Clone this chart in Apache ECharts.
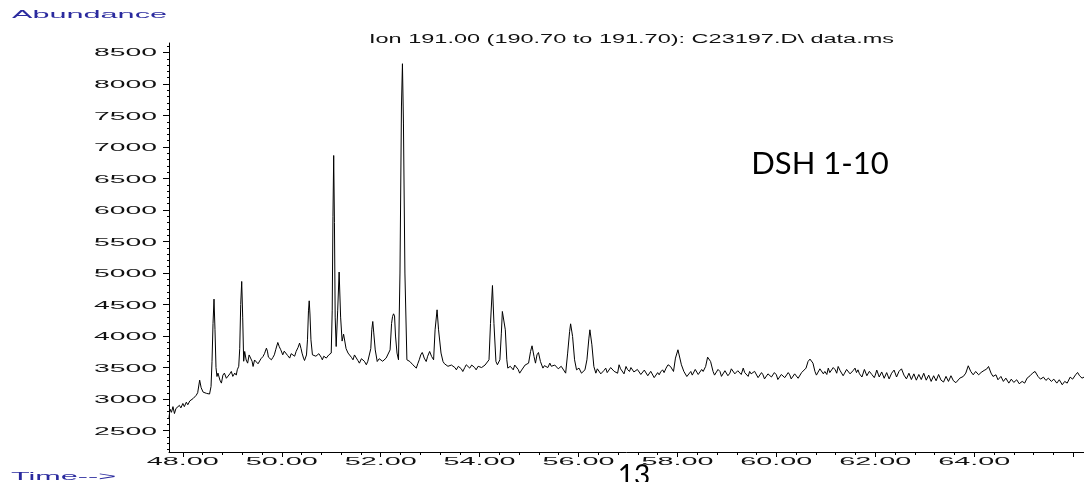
<!DOCTYPE html>
<html>
<head>
<meta charset="utf-8">
<script src="https://cdn.jsdelivr.net/npm/echarts@6/dist/echarts.min.js"></script>
<style>
    html, body { margin: 0; padding: 0; background: #ffffff; }
    #grafiek { width: 1084px; height: 482px; }
</style>
</head>
<body>
<div id="grafiek"></div>
<script>
// trace: [time (min), abundance]
const trace = [
    [47.72, 2700], [47.74, 2840], [47.77, 2790], [47.80, 2880], [47.83, 2770], [47.86, 2850], [47.90, 2820],
    [47.93, 2900], [47.96, 2860], [48.00, 2930], [48.03, 2880], [48.07, 2950], [48.10, 2910], [48.14, 2970],
    [48.17, 2940], [48.21, 3010], [48.24, 2990], [48.27, 3060], [48.30, 3100], [48.34, 3300], [48.37, 3180],
    [48.41, 3110], [48.44, 3130], [48.48, 3090], [48.51, 3120], [48.54, 3080], [48.57, 3200], [48.59, 3600],
    [48.61, 4200], [48.63, 4586], [48.65, 4100], [48.67, 3500], [48.69, 3358], [48.71, 3412], [48.75, 3300],
    [48.78, 3253], [48.81, 3380], [48.84, 3412], [48.88, 3330], [48.91, 3358], [48.95, 3400], [48.98, 3438],
    [49.01, 3360], [49.05, 3412], [49.08, 3380], [49.10, 3464], [49.13, 3520], [49.15, 3800], [49.17, 4500],
    [49.19, 4866], [49.21, 4300], [49.23, 3600], [49.25, 3755], [49.28, 3620], [49.31, 3570], [49.34, 3700],
    [49.37, 3675], [49.40, 3600], [49.42, 3517], [49.45, 3620], [49.48, 3650], [49.52, 3560], [49.55, 3544],
    [49.58, 3640], [49.62, 3675], [49.65, 3720], [49.69, 3808], [49.71, 3760], [49.73, 3665], [49.76, 3690],
    [49.79, 3623], [49.82, 3660], [49.85, 3702], [49.88, 3790], [49.92, 3898], [49.95, 3830], [49.98, 3782],
    [50.02, 3702], [50.05, 3760], [50.09, 3729], [50.12, 3690], [50.16, 3650], [50.19, 3720], [50.22, 3702],
    [50.26, 3680], [50.29, 3755], [50.33, 3820], [50.36, 3888], [50.39, 3800], [50.41, 3729], [50.44, 3650],
    [50.46, 3612], [50.50, 3700], [50.52, 3940], [50.54, 4400], [50.555, 4559], [50.57, 4350], [50.59, 3940],
    [50.62, 3702], [50.66, 3729], [50.69, 3680], [50.72, 3650], [50.75, 3720], [50.77, 3702], [50.80, 3660],
    [50.82, 3623], [50.85, 3680], [50.87, 3702], [50.90, 3650], [50.92, 3623], [50.95, 3700], [50.97, 3675],
    [51.00, 3730], [51.02, 4400], [51.035, 5900], [51.05, 6865], [51.065, 5800], [51.08, 4300], [51.10, 3834],
    [51.13, 4400], [51.16, 5015], [51.19, 4300], [51.22, 3920], [51.25, 4030], [51.27, 4040], [51.30, 3800],
    [51.34, 3730], [51.37, 3702], [51.41, 3660], [51.44, 3623], [51.47, 3700], [51.51, 3675], [51.54, 3610],
    [51.57, 3570], [51.61, 3640], [51.64, 3650], [51.67, 3600], [51.71, 3544], [51.74, 3600], [51.78, 3623],
    [51.80, 3800], [51.82, 4100], [51.84, 4231], [51.86, 4050], [51.89, 3780], [51.93, 3596], [51.97, 3640],
    [52.01, 3650], [52.04, 3600], [52.08, 3570], [52.11, 3650], [52.15, 3623], [52.19, 3780], [52.22, 4200],
    [52.24, 4310], [52.26, 4353], [52.28, 4320], [52.30, 4000], [52.33, 3730], [52.36, 3623], [52.39, 5000],
    [52.42, 7650], [52.44, 8321], [52.46, 7380], [52.49, 5000], [52.53, 3623], [52.56, 3640], [52.59, 3596],
    [52.62, 3580], [52.65, 3544], [52.69, 3520], [52.72, 3491], [52.75, 3560], [52.78, 3623], [52.81, 3700],
    [52.84, 3739], [52.86, 3700], [52.88, 3650], [52.92, 3596], [52.95, 3680], [52.99, 3755], [53.03, 3675],
    [53.07, 3623], [53.10, 4099], [53.14, 4416], [53.17, 4099], [53.22, 3730], [53.26, 3596], [53.29, 3560],
    [53.33, 3544], [53.36, 3520], [53.39, 3491], [53.43, 3540], [53.46, 3570], [53.50, 3500], [53.53, 3464],
    [53.57, 3520], [53.60, 3544], [53.63, 3480], [53.66, 3437], [53.70, 3500], [53.73, 3544], [53.77, 3520],
    [53.80, 3491], [53.84, 3540], [53.87, 3570], [53.90, 3500], [53.93, 3464], [53.97, 3520], [54.00, 3544],
    [54.04, 3500], [54.07, 3491], [54.11, 3540], [54.14, 3570], [54.19, 3623], [54.22, 4200], [54.26, 4802],
    [54.29, 4200], [54.33, 3596], [54.36, 3544], [54.41, 3623], [54.44, 4046], [54.46, 4390], [54.49, 4416],
    [54.52, 4099], [54.55, 3623], [54.57, 3491], [54.62, 3520], [54.68, 3464], [54.71, 3540], [54.74, 3517],
    [54.78, 3470], [54.81, 3411], [54.85, 3460], [54.88, 3491], [54.92, 3540], [54.95, 3517], [54.99, 3570],
    [55.03, 3755], [55.06, 3845], [55.10, 3676], [55.13, 3570], [55.16, 3702], [55.19, 3739], [55.23, 3596],
    [55.28, 3491], [55.31, 3530], [55.35, 3544], [55.38, 3500], [55.42, 3570], [55.45, 3520], [55.48, 3491],
    [55.52, 3540], [55.55, 3517], [55.59, 3480], [55.62, 3464], [55.65, 3520], [55.69, 3491], [55.74, 3411],
    [55.78, 3729], [55.82, 4073], [55.84, 4194], [55.88, 3993], [55.92, 3623], [55.96, 3464], [56.01, 3491],
    [56.06, 3411], [56.10, 3440], [56.13, 3464], [56.17, 3623], [56.21, 3967], [56.23, 4099], [56.27, 3861],
    [56.31, 3517], [56.35, 3411], [56.38, 3480], [56.41, 3464], [56.45, 3400], [56.48, 3385], [56.51, 3450],
    [56.55, 3491], [56.58, 3420], [56.62, 3438], [56.65, 3500], [56.69, 3517], [56.72, 3440], [56.75, 3464],
    [56.79, 3410], [56.82, 3544], [56.85, 3480], [56.89, 3464], [56.92, 3400], [56.96, 3517], [56.99, 3470],
    [57.03, 3438], [57.06, 3500], [57.09, 3491], [57.12, 3430], [57.16, 3411], [57.19, 3470], [57.23, 3464],
    [57.26, 3390], [57.30, 3411], [57.33, 3460], [57.36, 3438], [57.40, 3370], [57.43, 3385], [57.46, 3440],
    [57.50, 3411], [57.53, 3340], [57.56, 3358], [57.60, 3420], [57.63, 3385], [57.66, 3430], [57.70, 3464],
    [57.73, 3420], [57.77, 3491], [57.81, 3544], [57.86, 3517], [57.92, 3438], [57.96, 3650], [58.01, 3782],
    [58.04, 3755], [58.08, 3544], [58.13, 3438], [58.19, 3358], [58.22, 3332], [58.27, 3438], [58.30, 3380],
    [58.32, 3411], [58.36, 3470], [58.39, 3464], [58.42, 3390], [58.45, 3411], [58.49, 3470], [58.52, 3438],
    [58.57, 3517], [58.61, 3665], [58.63, 3691], [58.67, 3596], [58.72, 3438], [58.75, 3380], [58.79, 3411],
    [58.82, 3470], [58.86, 3438], [58.89, 3360], [58.92, 3385], [58.96, 3450], [58.99, 3438], [59.02, 3370],
    [59.06, 3411], [59.09, 3480], [59.13, 3464], [59.16, 3400], [59.19, 3385], [59.22, 3450], [59.26, 3438],
    [59.29, 3390], [59.33, 3491], [59.36, 3420], [59.40, 3411], [59.43, 3360], [59.46, 3438], [59.49, 3400],
    [59.53, 3385], [59.56, 3440], [59.60, 3411], [59.63, 3340], [59.66, 3358], [59.70, 3420], [59.73, 3385],
    [59.76, 3320], [59.80, 3332], [59.83, 3400], [59.87, 3411], [59.90, 3350], [59.93, 3358], [59.96, 3420],
    [60.00, 3385], [60.03, 3310], [60.07, 3332], [60.10, 3390], [60.13, 3411], [60.17, 3340], [60.20, 3358],
    [60.24, 3420], [60.27, 3385], [60.30, 3320], [60.34, 3332], [60.37, 3400], [60.41, 3385], [60.44, 3330],
    [60.47, 3358], [60.51, 3420], [60.54, 3411], [60.60, 3491], [60.64, 3596], [60.68, 3634], [60.71, 3650],
    [60.74, 3570], [60.78, 3438], [60.81, 3380], [60.85, 3411], [60.88, 3480], [60.92, 3464], [60.95, 3400],
    [60.98, 3438], [61.02, 3390], [61.05, 3491], [61.08, 3420], [61.12, 3438], [61.15, 3500], [61.19, 3464],
    [61.22, 3410], [61.25, 3517], [61.29, 3450], [61.32, 3438], [61.35, 3370], [61.38, 3411], [61.42, 3470],
    [61.45, 3464], [61.49, 3400], [61.52, 3385], [61.55, 3450], [61.59, 3491], [61.62, 3420], [61.65, 3464],
    [61.68, 3400], [61.70, 3430], [61.73, 3350], [61.75, 3380], [61.78, 3470], [61.80, 3450], [61.83, 3370],
    [61.85, 3400], [61.88, 3440], [61.90, 3470], [61.93, 3390], [61.95, 3420], [61.98, 3340], [62.00, 3380],
    [62.03, 3460], [62.05, 3440], [62.08, 3350], [62.10, 3360], [62.13, 3430], [62.15, 3410], [62.18, 3330],
    [62.20, 3350], [62.23, 3420], [62.25, 3400], [62.28, 3320], [62.30, 3340], [62.33, 3410], [62.35, 3390],
    [62.38, 3460], [62.40, 3430], [62.43, 3350], [62.45, 3370], [62.48, 3440], [62.50, 3420], [62.53, 3480],
    [62.55, 3460], [62.58, 3380], [62.60, 3400], [62.63, 3320], [62.65, 3350], [62.68, 3410], [62.70, 3390],
    [62.73, 3310], [62.75, 3330], [62.78, 3400], [62.80, 3380], [62.83, 3300], [62.85, 3320], [62.88, 3390],
    [62.90, 3370], [62.93, 3310], [62.95, 3340], [62.98, 3410], [63.00, 3390], [63.03, 3300], [63.05, 3320],
    [63.08, 3380], [63.10, 3360], [63.13, 3280], [63.15, 3300], [63.18, 3370], [63.20, 3350], [63.23, 3290],
    [63.25, 3310], [63.28, 3390], [63.30, 3370], [63.33, 3300], [63.35, 3320], [63.38, 3270], [63.40, 3290],
    [63.43, 3360], [63.45, 3340], [63.48, 3280], [63.50, 3300], [63.53, 3370], [63.55, 3350], [63.58, 3290],
    [63.60, 3310], [63.63, 3260], [63.65, 3280], [63.71, 3332], [63.78, 3359], [63.83, 3412], [63.88, 3528],
    [63.93, 3438], [63.98, 3385], [64.03, 3438], [64.09, 3385], [64.14, 3422], [64.20, 3454], [64.25, 3475],
    [64.29, 3517], [64.34, 3412], [64.38, 3359], [64.44, 3385], [64.48, 3306], [64.54, 3359], [64.59, 3280],
    [64.64, 3332], [64.70, 3253], [64.75, 3316], [64.80, 3264], [64.86, 3306], [64.91, 3243], [64.97, 3280],
    [65.02, 3253], [65.07, 3332], [65.13, 3370], [65.18, 3412], [65.23, 3438], [65.29, 3359], [65.34, 3316],
    [65.40, 3348], [65.45, 3296], [65.50, 3332], [65.56, 3280], [65.61, 3316], [65.67, 3253], [65.72, 3306],
    [65.78, 3227], [65.83, 3280], [65.88, 3253], [65.94, 3348], [65.99, 3316], [66.05, 3385], [66.09, 3422],
    [66.13, 3370], [66.18, 3332], [66.22, 3348]
];

// axes
const xRange = [47.72, 66.22];
const yRange = [2160, 8650];
const xTickLabels = ['48.00', '50.00', '52.00', '54.00', '56.00', '58.00', '60.00', '62.00', '64.00'];
const xMajorTicks = [48, 50, 52, 54, 56, 58, 60, 62, 64, 66];
const yTickLabels = ['2500', '3000', '3500', '4000', '4500', '5000', '5500', '6000', '6500', '7000', '7500', '8000', '8500'];

const titleText = 'Ion 191.00 (190.70 to 191.70): C23197.D\\ data.ms';
const sampleText = 'DSH 1-10';
const pageText = '13';

// minor ticks: every 0.4 min, every 100 counts
let xMinorTicks = [];
for (let i = 0; i <= 45; i++) xMinorTicks.push(+(48 + i * 0.4).toFixed(1));
let yMinorTicks = [];
for (let v = 2200; v <= 8600; v += 100) yMinorTicks.push(v);

const blauw = '#2a2a9e';
const lettertype = '"Liberation Sans", Arial, sans-serif';

// the instrument font is very wide; stretch normal text to the same width
function rekFactor(tekst, font, breedte) {
    let ctx = document.createElement('canvas').getContext('2d');
    ctx.font = font;
    return breedte / ctx.measureText(tekst).width;
}

function rekTekst(tekst, x, y, size, breedte, align, kleur) {
    let font = size + 'px ' + lettertype;
    return {
        type: 'text',
        x: x,
        y: y,
        scaleX: rekFactor(tekst, font, breedte),
        silent: true,
        style: {
            text: tekst,
            font: font,
            fill: kleur,
            align: align,
            verticalAlign: 'middle'
        }
    };
}

function toonGrafiek() {
    let grafiek = echarts.init(document.getElementById('grafiek'));
    let option = {
        animation: false,
        backgroundColor: '#ffffff',
        grid: { left: 169, right: 0, top: 43, bottom: 30 },
        xAxis: [
            {
                type: 'value', min: xRange[0], max: xRange[1],
                axisLine: { lineStyle: { color: '#000', width: 1 } },
                axisTick: { customValues: xMajorTicks, length: 5, lineStyle: { color: '#000' } },
                axisLabel: { show: false },
                splitLine: { show: false }
            },
            {
                type: 'value', min: xRange[0], max: xRange[1], position: 'bottom',
                axisLine: { show: false },
                axisTick: { customValues: xMinorTicks, length: 3, lineStyle: { color: '#000' } },
                axisLabel: { show: false },
                splitLine: { show: false }
            }
        ],
        yAxis: [
            {
                type: 'value', min: yRange[0], max: yRange[1],
                axisLine: { show: true, lineStyle: { color: '#000', width: 1 } },
                axisTick: { show: true, customValues: yTickLabels.map(Number), length: 6, lineStyle: { color: '#000' } },
                axisLabel: { show: false },
                splitLine: { show: false }
            },
            {
                type: 'value', min: yRange[0], max: yRange[1], position: 'left',
                axisLine: { show: false },
                axisTick: { show: true, customValues: yMinorTicks, length: 2, lineStyle: { color: '#000' } },
                axisLabel: { show: false },
                splitLine: { show: false }
            }
        ],
        series: [
            {
                name: 'Ion 191',
                type: 'line',
                xAxisIndex: 0,
                yAxisIndex: 0,
                data: trace,
                showSymbol: false,
                lineStyle: { color: '#000', width: 1 }
            }
        ]
    };
    grafiek.setOption(option);

    // tick labels, placed with the axes' own scales
    let teksten = [];
    xTickLabels.forEach(l => {
        let px = grafiek.convertToPixel({ xAxisIndex: 0 }, Number(l));
        teksten.push(rekTekst(l, px, 462, 11, 72, 'center', '#111'));
    });
    yTickLabels.forEach(l => {
        let py = grafiek.convertToPixel({ yAxisIndex: 0 }, Number(l));
        teksten.push(rekTekst(l, 157, py + 1, 11, 63, 'right', '#111'));
    });
    teksten.push(rekTekst('Abundance', 12, 14.5, 11, 155, 'left', blauw));
    teksten.push(rekTekst('Time-->', 11, 477, 11, 105, 'left', blauw));
    teksten.push(rekTekst(titleText, 369, 40, 12, 525, 'left', '#111'));
    teksten.push({
        type: 'text', x: 820, y: 164, silent: true,
        style: { text: sampleText, font: '31px Lato, "Open Sans", sans-serif', fill: '#000', align: 'center', verticalAlign: 'middle' }
    });
    teksten.push({
        type: 'text', x: 634, y: 476, silent: true,
        style: { text: pageText, font: '28px Lato, "Open Sans", sans-serif', fill: '#000', align: 'center', verticalAlign: 'middle' }
    });
    grafiek.setOption({ graphic: teksten });
}

window.onload = function () {
    if (document.getElementById('grafiek')) {
        toonGrafiek();
    } else {
        console.error("Element #grafiek niet gevonden!");
    }
};
</script>
</body>
</html>
